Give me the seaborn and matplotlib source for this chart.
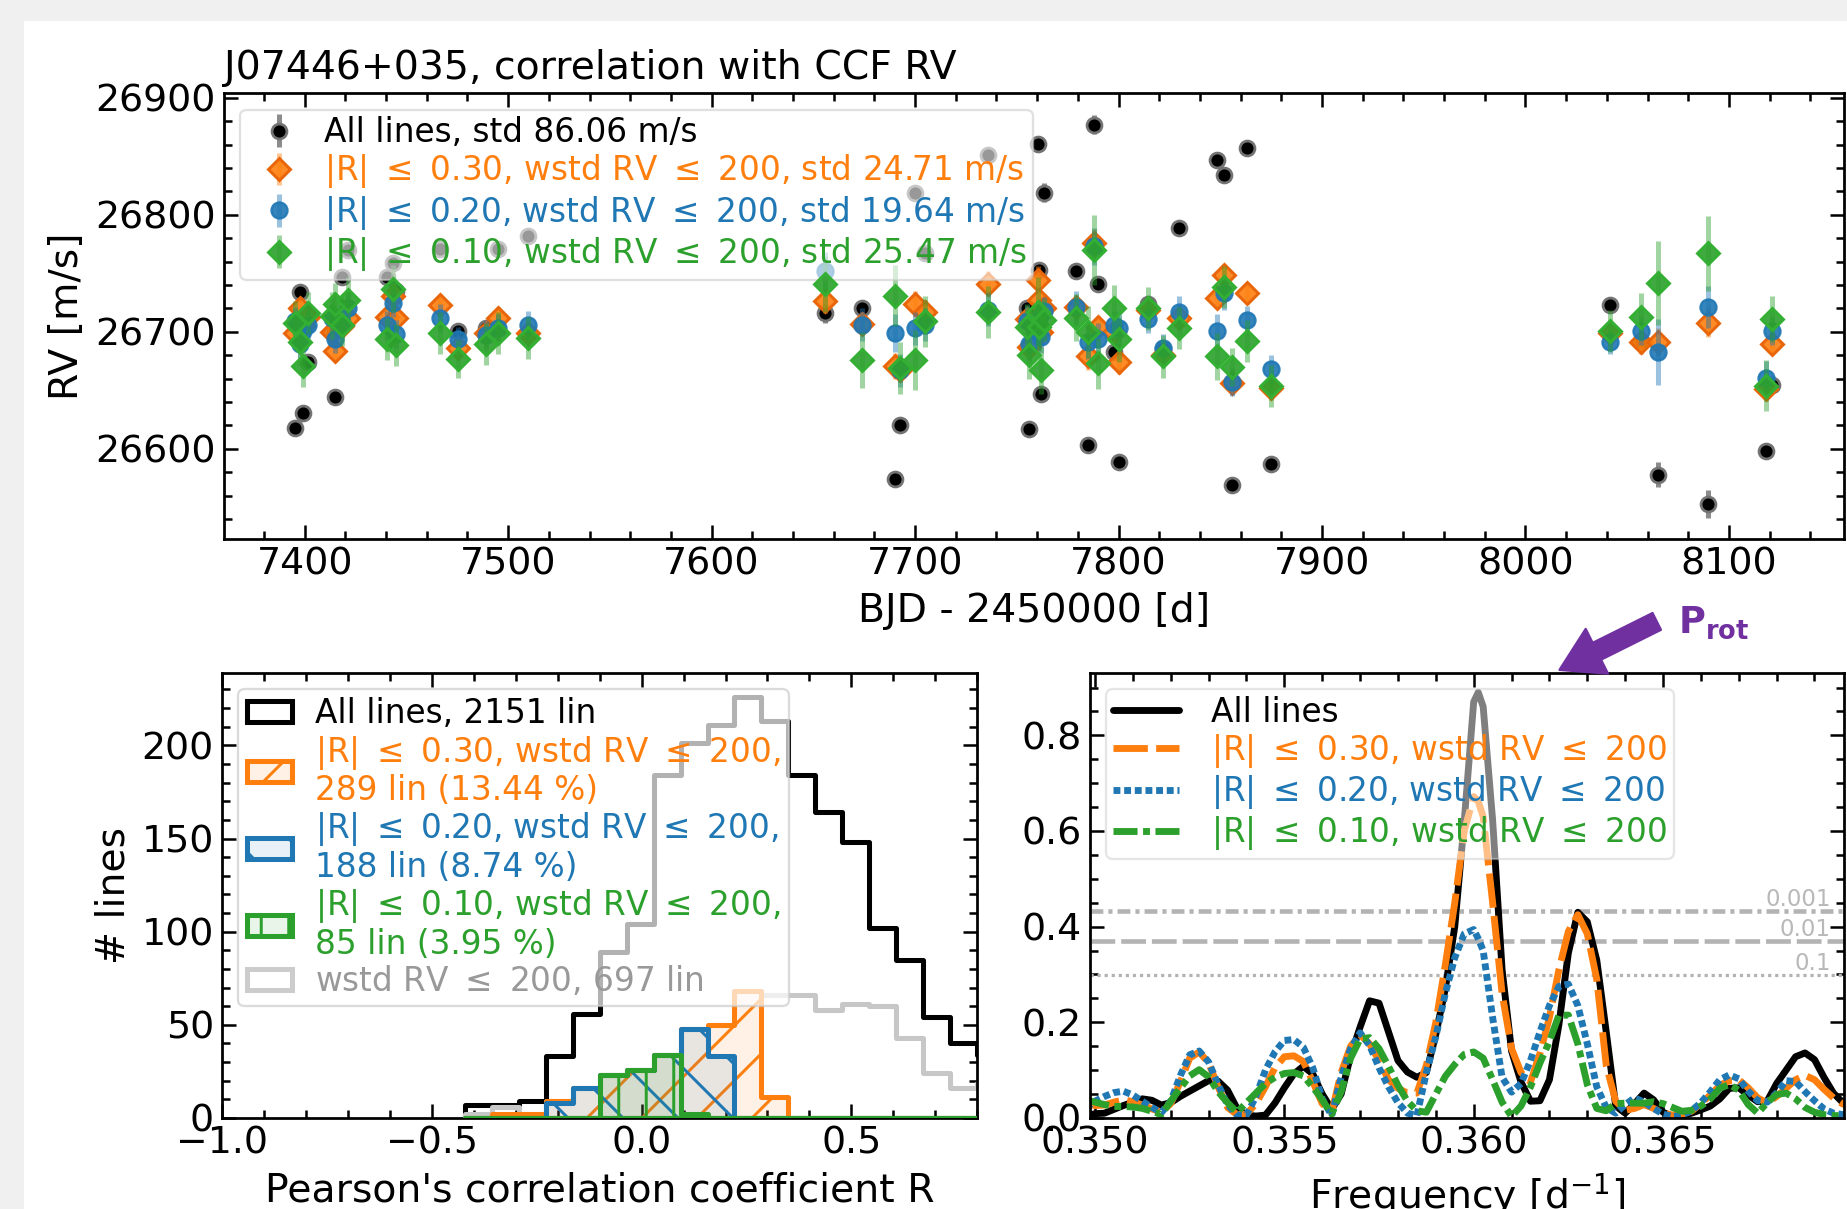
import numpy as np
import matplotlib.pyplot as plt
from matplotlib.patches import Patch, Rectangle
from matplotlib.ticker import MultipleLocator, FormatStrFormatter
from matplotlib.colors import to_rgba
import matplotlib.transforms as mtransforms
import seaborn as sns

# ---------------- RV time series (BJD - 2450000) ----------------
bjd = [7395.5, 7397.5, 7399.0, 7401.5, 7413.5, 7415.0, 7418.5, 7421.5, 7440.5, 7443.5,
       7445.0, 7466.5, 7475.2, 7489.0, 7495.0, 7510.0, 7655.8, 7673.8, 7690.2, 7692.6,
       7700.0, 7705.0, 7736.0, 7755.0, 7756.2, 7760.2, 7761.0, 7762.0, 7763.4, 7779.0,
       7785.0, 7788.0, 7790.0, 7798.0, 7800.0, 7814.7, 7822.0, 7829.8, 7848.6, 7851.9,
       7855.6, 7863.0, 7874.8, 8041.8, 8056.6, 8065.0, 8089.8, 8118.0, 8121.3]
rv_all = [26618, 26734, 26631, 26674, 26700, 26644, 26747, 26770, 26747, 26759,
          26735, 26771, 26701, 26703, 26771, 26782, 26716, 26720, 26574, 26620,
          26819, 26767, 26851, 26720, 26617, 26861, 26753, 26647, 26819, 26752,
          26603, 26877, 26741, 26683, 26589, 26724, 26685, 26789, 26847, 26834,
          26569, 26857, 26587, 26723, 26691, 26578, 26553, 26598, 26655]
rv_r30 = [26699, 26720, 26705, 26713, 26700, 26684, 26705, 26712, 26713, 26731,
          26712, 26723, 26686, 26699, 26712, 26699, 26726, 26707, 26671, 26667,
          26724, 26717, 26741, 26711, 26687, 26744, 26727, 26700, 26720, 26721,
          26679, 26776, 26704, 26700, 26674, 26719, 26680, 26712, 26729, 26749,
          26656, 26733, 26652, 26699, 26691, 26691, 26708, 26651, 26690]
rv_r20 = [26709, 26690, 26701, 26706, 26712, 26694, 26708, 26720, 26706, 26725,
          26698, 26712, 26694, 26697, 26703, 26706, 26752, 26706, 26699, 26667,
          26703, 26706, 26719, 26709, 26690, 26700, 26712, 26696, 26718, 26721,
          26691, 26773, 26694, 26706, 26703, 26711, 26686, 26717, 26701, 26733,
          26657, 26710, 26668, 26691, 26701, 26683, 26721, 26661, 26701]
rv_r10 = [26708, 26691, 26671, 26716, 26714, 26724, 26706, 26727, 26694, 26737,
          26689, 26699, 26677, 26690, 26699, 26695, 26741, 26676, 26731, 26669,
          26676, 26709, 26717, 26704, 26680, 26717, 26704, 26667, 26710, 26712,
          26700, 26770, 26673, 26720, 26694, 26720, 26679, 26703, 26679, 26738,
          26670, 26692, 26654, 26701, 26713, 26742, 26767, 26654, 26711]
err_all = [5, 5, 6, 6, 5, 5, 5, 6, 5, 6, 5, 5, 6, 5, 5, 5, 8, 6, 6, 6, 6, 6, 6, 6, 6,
           6, 6, 6, 8, 6, 6, 8, 7, 6, 6, 6, 6, 6, 6, 6, 6, 6, 6, 7, 7, 11, 12, 7, 7]
err_r30 = [9, 10, 9, 9, 9, 10, 9, 9, 9, 9, 9, 9, 8, 9, 9, 9, 10, 10, 11, 10, 11, 10, 11, 9, 10,
           12, 10, 10, 9, 10, 12, 12, 10, 9, 10, 9, 9, 9, 9, 9, 9, 9, 10, 8, 10, 12, 12, 10, 9]
err_r20 = [12, 12, 12, 12, 12, 12, 12, 14, 12, 12, 12, 12, 10, 12, 12, 12, 16, 14, 16, 14, 14, 14, 14, 14, 14,
           16, 14, 14, 12, 14, 14, 16, 14, 12, 14, 12, 12, 14, 14, 14, 12, 12, 12, 10, 12, 28, 18, 14, 12]
err_r10 = [18, 20, 18, 18, 20, 18, 18, 20, 18, 20, 18, 18, 16, 18, 18, 18, 24, 24, 26, 22, 26, 22, 22, 20, 20,
           30, 20, 20, 18, 20, 22, 30, 22, 20, 20, 18, 18, 18, 20, 18, 16, 18, 18, 18, 20, 36, 32, 22, 20]

# ---------------- histogram of Pearson R ----------------
bin_edges = [-0.4214, -0.3571, -0.2929, -0.2286, -0.1643, -0.1000, -0.0357, 0.0286, 0.0929, 0.1571,
             0.2214, 0.2857, 0.3500, 0.4143, 0.4786, 0.5429, 0.6071, 0.6714, 0.7357, 0.8000, 0.8643]
n_all = [7, 7, 9, 33, 56, 89, 104, 184, 201, 211, 226, 213, 184, 164, 148, 102, 85, 54, 40, 34]
n_wstd = [2, 6, 2, 9, 16, 23, 26, 34, 48, 50, 68, 66, 66, 58, 61, 60, 43, 24, 16, 19]
n_r30 = [0, 2, 2, 9, 16, 23, 26, 34, 48, 50, 68, 11, 0, 0, 0, 0, 0, 0, 0, 0]
n_r20 = [0, 0, 0, 8, 16, 23, 26, 34, 48, 33, 0, 0, 0, 0, 0, 0, 0, 0, 0, 0]
n_r10 = [0, 0, 0, 0, 0, 23, 26, 34, 2, 0, 0, 0, 0, 0, 0, 0, 0, 0, 0, 0]

# ---------------- periodogram ----------------
# regular grid plus one extra sample on top of the main peak
freq = np.insert(np.linspace(0.34975, 0.37, 82), 42, 0.36012)
pg_all = [0.004, 0.009, 0.010, 0.018, 0.026, 0.033, 0.040, 0.037, 0.027, 0.032,
          0.045, 0.056, 0.067, 0.078, 0.077, 0.058, 0.020, 0.006, 0.004, 0.006,
          0.031, 0.063, 0.092, 0.108, 0.092, 0.050, 0.018, 0.050, 0.130, 0.190,
          0.245, 0.240, 0.180, 0.120, 0.096, 0.085, 0.095, 0.175, 0.270, 0.400,
          0.620, 0.870, 0.890, 0.860, 0.623, 0.310, 0.140, 0.075, 0.035, 0.036, 0.080,
          0.195, 0.345, 0.430, 0.410, 0.330, 0.180, 0.025, 0.010, 0.030, 0.052,
          0.038, 0.012, 0.003, 0.005, 0.010, 0.017, 0.025, 0.040, 0.062, 0.063,
          0.048, 0.034, 0.035, 0.072, 0.100, 0.128, 0.136, 0.122, 0.085, 0.052,
          0.032, 0.025]
pg_r30 = [0.030, 0.026, 0.027, 0.033, 0.038, 0.034, 0.027, 0.019, 0.012, 0.030,
          0.075, 0.125, 0.138, 0.115, 0.065, 0.022, 0.007, 0.008, 0.030, 0.065,
          0.105, 0.128, 0.130, 0.118, 0.076, 0.030, 0.012, 0.095, 0.150, 0.174,
          0.155, 0.120, 0.080, 0.062, 0.052, 0.052, 0.110, 0.200, 0.320, 0.450,
          0.600, 0.672, 0.662, 0.630, 0.450, 0.260, 0.145, 0.095, 0.075, 0.135, 0.210,
          0.310, 0.390, 0.425, 0.385, 0.290, 0.110, 0.035, 0.016, 0.020, 0.028,
          0.020, 0.010, 0.006, 0.008, 0.014, 0.030, 0.048, 0.068, 0.078, 0.080,
          0.063, 0.042, 0.031, 0.045, 0.062, 0.080, 0.089, 0.080, 0.060, 0.042,
          0.029, 0.025]
pg_r20 = [0.020, 0.035, 0.045, 0.053, 0.056, 0.048, 0.035, 0.022, 0.011, 0.035,
          0.088, 0.132, 0.140, 0.117, 0.070, 0.028, 0.006, 0.006, 0.045, 0.100,
          0.138, 0.162, 0.164, 0.148, 0.105, 0.040, 0.005, 0.085, 0.145, 0.178,
          0.152, 0.105, 0.065, 0.032, 0.010, 0.005, 0.095, 0.170, 0.260, 0.335,
          0.385, 0.394, 0.375, 0.350, 0.210, 0.085, 0.054, 0.072, 0.120, 0.180, 0.235,
          0.275, 0.280, 0.235, 0.155, 0.065, 0.022, 0.010, 0.028, 0.042, 0.033,
          0.020, 0.008, 0.003, 0.006, 0.015, 0.032, 0.055, 0.080, 0.090, 0.082,
          0.056, 0.036, 0.033, 0.052, 0.078, 0.076, 0.055, 0.036, 0.019, 0.010,
          0.007, 0.006]
pg_r10 = [0.038, 0.033, 0.028, 0.024, 0.024, 0.023, 0.020, 0.014, 0.007, 0.035,
          0.062, 0.088, 0.101, 0.086, 0.055, 0.032, 0.012, 0.032, 0.052, 0.072,
          0.085, 0.093, 0.095, 0.088, 0.065, 0.038, 0.008, 0.055, 0.125, 0.165,
          0.168, 0.145, 0.108, 0.068, 0.035, 0.015, 0.012, 0.050, 0.087, 0.112,
          0.133, 0.138, 0.132, 0.125, 0.080, 0.033, 0.003, 0.025, 0.065, 0.115, 0.160,
          0.215, 0.215, 0.155, 0.070, 0.020, 0.015, 0.030, 0.031, 0.031, 0.031,
          0.034, 0.030, 0.022, 0.014, 0.016, 0.025, 0.040, 0.062, 0.070, 0.058,
          0.028, 0.010, 0.032, 0.049, 0.052, 0.040, 0.022, 0.012, 0.007, 0.005,
          0.005, 0.005]
fap_levels = [0.4318, 0.369, 0.2995]
fap_labels = ['0.001', '0.01', '0.1']

C30, C20, C10 = '#ff7f0e', '#1f77b4', '#2ca02c'
PURPLE = '#7030a0'
LEG_FS = 14.3

sns.set_style('ticks')
plt.rcParams['font.family'] = ['DejaVu Sans']
plt.rcParams.update({
    'font.size': 16.5, 'axes.labelsize': 17.2, 'axes.titlesize': 17.2,
    'xtick.labelsize': 16.5, 'ytick.labelsize': 16.5,
    'axes.edgecolor': 'black', 'axes.linewidth': 1.2,
    'xtick.color': 'black', 'ytick.color': 'black',
    'axes.labelcolor': 'black', 'text.color': 'black',
    'hatch.linewidth': 1.3, 'mathtext.fontset': 'dejavusans',
    'axes.unicode_minus': True,
})

fig = plt.figure(figsize=(1847 / 165, 1209 / 165), dpi=165, facecolor='#f0f0f0')
fig.add_artist(Rectangle((24 / 1847, 0), 1, 1 - 21 / 1209, transform=fig.transFigure,
                         facecolor='white', edgecolor='none', zorder=-10))
ax1 = fig.add_axes([0.1211, 0.5542, 0.8772, 0.3687])
ax2 = fig.add_axes([0.1202, 0.0753, 0.4089, 0.3683])
ax3 = fig.add_axes([0.5902, 0.0753, 0.4084, 0.3683])

for ax in (ax1, ax2, ax3):
    ax.tick_params(which='both', direction='in', top=True, right=True, width=1.1)
    ax.tick_params(which='major', length=6)
    ax.tick_params(which='minor', length=3.5)

# ---- top: RVs ----
ax1.errorbar(bjd, rv_all, yerr=err_all, fmt='o', ms=6.5, mfc='k', mec='0.45', mew=1.2,
             ecolor=(0, 0, 0, 0.45), elinewidth=2.2, capsize=0, zorder=2,
             label='All lines, std 86.06 m/s')
ax1.errorbar(bjd, rv_r30, yerr=err_r30, fmt='D', ms=6.8, mfc=to_rgba(C30, 0.9), mec='#e8650a',
             mew=1.3, ecolor=to_rgba(C30, 0.45), elinewidth=2.2, capsize=0, zorder=3,
             label=r'|R| $\leq$ 0.30, wstd RV $\leq$ 200, std 24.71 m/s')
ax1.errorbar(bjd, rv_r20, yerr=err_r20, fmt='o', ms=7, mfc=to_rgba(C20, 0.9), mec=to_rgba(C20, 0.9),
             mew=1.0, ecolor=to_rgba(C20, 0.45), elinewidth=2.2, capsize=0, zorder=4,
             label=r'|R| $\leq$ 0.20, wstd RV $\leq$ 200, std 19.64 m/s')
ax1.errorbar(bjd, rv_r10, yerr=err_r10, fmt='D', ms=6.8, mfc=to_rgba(C10, 0.9), mec='#33b033',
             mew=1.3, ecolor=to_rgba(C10, 0.45), elinewidth=2.2, capsize=0, zorder=5,
             label=r'|R| $\leq$ 0.10, wstd RV $\leq$ 200, std 25.47 m/s')
ax1.set_xlim(7360.2, 8156.5)
ax1.set_ylim(26523, 26904)
ax1.xaxis.set_major_locator(MultipleLocator(100))
ax1.xaxis.set_minor_locator(MultipleLocator(20))
ax1.yaxis.set_major_locator(MultipleLocator(100))
ax1.yaxis.set_minor_locator(MultipleLocator(20))
ax1.yaxis.set_major_formatter(FormatStrFormatter('%d'))
ax1.set_xlabel('BJD - 2450000 [d]')
ax1.set_ylabel('RV [m/s]')
ax1.set_title('J07446+035, correlation with CCF RV', loc='left')
leg1 = ax1.legend(loc='upper left', fontsize=LEG_FS, labelspacing=0.1, handlelength=2.0,
                  handletextpad=0.35, borderpad=0.2, framealpha=0.6)
for txt, c in zip(leg1.get_texts(), ['k', C30, C20, C10]):
    txt.set_color(c)

# ---- bottom left: histogram ----
centers = [(a + b) / 2 for a, b in zip(bin_edges[:-1], bin_edges[1:])]


def hist_outline(counts, color, z):
    sns.histplot(x=centers, weights=counts, bins=bin_edges, element='step', fill=True,
                 color=color, facecolor='none', edgecolor=color, linewidth=2.2, ax=ax2, zorder=z)


def hist_hatched(counts, color, hatch, z):
    plt.rcParams['hatch.color'] = color
    sns.histplot(x=centers, weights=counts, bins=bin_edges, element='step', fill=True,
                 color=color, facecolor=to_rgba(color, 0.1), edgecolor=color, linewidth=0,
                 hatch=hatch, ax=ax2, zorder=z)


hist_outline(n_all, 'k', 2)
hist_outline(n_wstd, '0.78', 2.1)
hist_hatched(n_r30, C30, '/', 2.2)
hist_hatched(n_r20, C20, '\\', 2.3)
hist_hatched(n_r10, C10, '|', 2.4)
hist_outline(n_r30, C30, 2.5)
hist_outline(n_r20, C20, 2.6)
hist_outline(n_r10, C10, 2.7)
ax2.set_xlim(-1.0, 0.8)
ax2.set_ylim(0, 239)
ax2.xaxis.set_major_locator(MultipleLocator(0.5))
ax2.xaxis.set_minor_locator(MultipleLocator(0.1))
ax2.yaxis.set_major_locator(MultipleLocator(50))
ax2.yaxis.set_minor_locator(MultipleLocator(10))
ax2.set_xlabel("Pearson's correlation coefficient R")
ax2.set_ylabel('# lines')
hist_handles = [
    Patch(facecolor='white', edgecolor='k', linewidth=2.2),
    Patch(facecolor=to_rgba(C30, 0.1), edgecolor=C30, linewidth=2.2, hatch='/'),
    Patch(facecolor=to_rgba(C20, 0.1), edgecolor=C20, linewidth=2.2, hatch='\\'),
    Patch(facecolor=to_rgba(C10, 0.1), edgecolor=C10, linewidth=2.2, hatch='|'),
    Patch(facecolor='white', edgecolor='0.8', linewidth=2.2),
]
hist_labels = ['All lines, 2151 lin',
               '|R| $\\leq$ 0.30, wstd RV $\\leq$ 200,\n289 lin (13.44 %)',
               '|R| $\\leq$ 0.20, wstd RV $\\leq$ 200,\n188 lin (8.74 %)',
               '|R| $\\leq$ 0.10, wstd RV $\\leq$ 200,\n85 lin (3.95 %)',
               'wstd RV $\\leq$ 200, 697 lin']
leg2 = ax2.legend(hist_handles, hist_labels, loc='upper left', fontsize=LEG_FS, labelspacing=0.1,
                  handlelength=1.4, handleheight=0.6, handletextpad=0.7, borderpad=0.25,
                  framealpha=0.7)
for txt, c in zip(leg2.get_texts(), ['k', C30, C20, C10, '0.6']):
    txt.set_color(c)
    txt.set_linespacing(1.1)

# ---- bottom right: periodogram ----
fap_styles = [(0, (2.8, 1.1, 0.9, 1.1)), (0, (5.4, 1.3)), (0, (1, 1.2))]
fap_widths = [2.0, 2.0, 1.4]
trans = mtransforms.blended_transform_factory(ax3.transAxes, ax3.transData)
for lv, lab, ls, lw in zip(fap_levels, fap_labels, fap_styles, fap_widths):
    ax3.axhline(lv, color='0.7', lw=lw, ls=ls, zorder=1)
    ax3.text(0.982, lv, lab, transform=trans, ha='right', va='bottom', fontsize=10, color='0.72')

pg_lines = []
for vals, col, ls, lab in [
        (pg_all, 'k', '-', 'All lines'),
        (pg_r30, C30, (0, (5, 1.2)), r'|R| $\leq$ 0.30, wstd RV $\leq$ 200'),
        (pg_r20, C20, (0, (1, 0.55)), r'|R| $\leq$ 0.20, wstd RV $\leq$ 200'),
        (pg_r10, C10, (0, (3.5, 0.8, 1, 0.8)), r'|R| $\leq$ 0.10, wstd RV $\leq$ 200')]:
    sns.lineplot(x=freq, y=vals, color=col, linewidth=3, linestyle=ls, ax=ax3,
                 errorbar=None, legend=False, label=lab)
    pg_lines.append(ax3.lines[-1])
ax3.set_xlim(0.34987, 0.36979)
ax3.set_ylim(0, 0.931)
ax3.xaxis.set_major_locator(MultipleLocator(0.005))
ax3.xaxis.set_minor_locator(MultipleLocator(0.001))
ax3.yaxis.set_major_locator(MultipleLocator(0.2))
ax3.yaxis.set_minor_locator(MultipleLocator(0.05))
ax3.xaxis.set_major_formatter(FormatStrFormatter('%.3f'))
ax3.yaxis.set_major_formatter(FormatStrFormatter('%.1f'))
ax3.set_xlabel(r'Frequency [d$^{-1}$]')
ax3.set_ylabel('')
leg3 = ax3.legend(pg_lines, [l.get_label() for l in pg_lines], loc='upper left', fontsize=LEG_FS,
                  labelspacing=0.1, handlelength=2.0, handletextpad=1.0, borderpad=0.2,
                  framealpha=0.5)
for txt, c in zip(leg3.get_texts(), ['k', C30, C20, C10]):
    txt.set_color(c)

ax3.annotate('', xy=(0.6223, 1.0063), xytext=(0.7512, 1.1151),
             xycoords='axes fraction', textcoords='axes fraction', annotation_clip=False,
             arrowprops=dict(arrowstyle='simple,head_length=0.91,head_width=1.09,tail_width=0.41',
                             mutation_scale=20, fc=PURPLE, ec=PURPLE, shrinkA=0, shrinkB=0))
ax3.text(0.7795, 1.0891, r'P$_{\mathbf{rot}}$', transform=ax3.transAxes, color=PURPLE,
         fontsize=16, fontweight='bold', ha='left', va='baseline')

fig.savefig('out.png', dpi=165, facecolor=fig.get_facecolor())
